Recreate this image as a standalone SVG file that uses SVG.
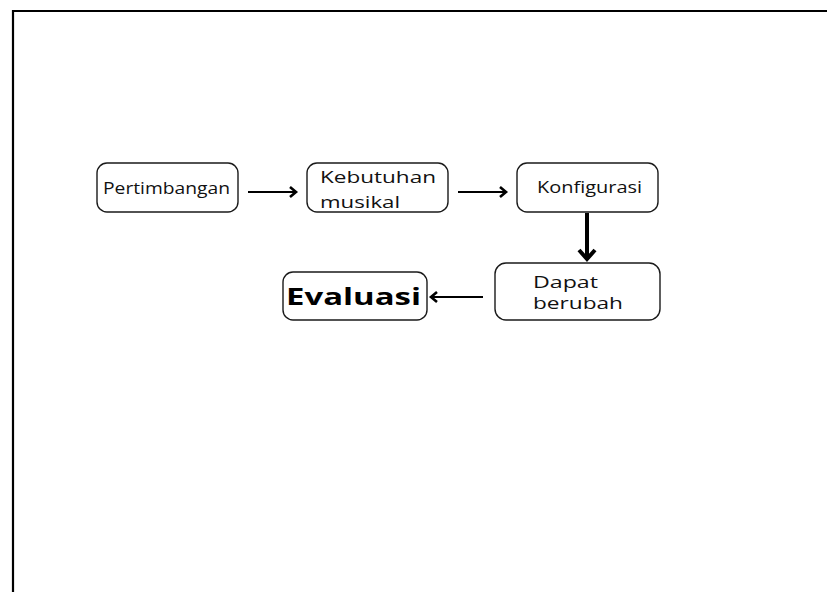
<svg xmlns="http://www.w3.org/2000/svg" width="827" height="592" viewBox="0 0 827 592">
  <style>
    .box { fill: #ffffff; stroke: #1a1a1a; stroke-width: 1.4; }
    .lbl { font-family: "Open Sans", "Noto Sans", "DejaVu Sans", sans-serif; font-size: 16px; fill: #111111; }
    .big { font-family: "Open Sans", "Noto Sans", "DejaVu Sans", sans-serif; font-size: 23px; font-weight: bold; fill: #000000; }
    .line { fill: none; stroke: #000000; stroke-width: 2.2; }
    .thick { fill: none; stroke: #000000; stroke-width: 4; }
    .head { fill: none; stroke: #000000; stroke-width: 2.6; stroke-linejoin: miter; stroke-linecap: butt; }
    .headthick { fill: none; stroke: #000000; stroke-width: 4; stroke-linejoin: miter; stroke-linecap: butt; }
  </style>

  <rect width="827" height="592" fill="#ffffff"/>
  <!-- page frame: left and top edges -->
  <path d="M13,592 V11 H827" fill="none" stroke="#000000" stroke-width="2.2"/>

  <g id="node-pertimbangan">
    <rect class="box" x="97" y="163" width="141" height="49" rx="10"/>
    <text class="lbl" x="103" y="194" textLength="127" lengthAdjust="spacingAndGlyphs">Pertimbangan</text>
  </g>

  <g id="node-kebutuhan">
    <rect class="box" x="307" y="163" width="141" height="49" rx="10"/>
    <text class="lbl" x="320" y="183" font-size="17" textLength="116" lengthAdjust="spacingAndGlyphs">Kebutuhan</text>
    <text class="lbl" x="320" y="208" font-size="17" textLength="80" lengthAdjust="spacingAndGlyphs">musikal</text>
  </g>

  <g id="node-konfigurasi">
    <rect class="box" x="517" y="163" width="141" height="49" rx="10"/>
    <text class="lbl" x="537" y="193" textLength="105" lengthAdjust="spacingAndGlyphs">Konfigurasi</text>
  </g>

  <g id="node-dapat-berubah">
    <rect class="box" x="495" y="263" width="165" height="57" rx="11"/>
    <text class="lbl" x="533" y="288" font-size="18" textLength="65" lengthAdjust="spacingAndGlyphs">Dapat</text>
    <text class="lbl" x="533" y="309" font-size="18" textLength="90" lengthAdjust="spacingAndGlyphs">berubah</text>
  </g>

  <g id="node-evaluasi">
    <rect class="box" x="283" y="272" width="144" height="48" rx="10"/>
    <text class="big" x="286" y="305" textLength="135" lengthAdjust="spacingAndGlyphs">Evaluasi</text>
  </g>

  <g id="connectors">
    <!-- Pertimbangan to Kebutuhan musikal -->
    <line class="line" x1="248" y1="192" x2="295" y2="192"/>
    <path class="head" d="M290,187 L296,192 L290,197"/>
    <!-- Kebutuhan musikal to Konfigurasi -->
    <line class="line" x1="458" y1="192" x2="505" y2="192"/>
    <path class="head" d="M500,187 L506,192 L500,197"/>
    <!-- Konfigurasi down to Dapat berubah -->
    <line class="thick" x1="587" y1="213" x2="587" y2="258"/>
    <path class="headthick" d="M579,250 L587,259 L595,250"/>
    <!-- Dapat berubah back to Evaluasi -->
    <line class="line" x1="483" y1="297" x2="432" y2="297"/>
    <path class="head" d="M437,292 L431,297 L437,302"/>
  </g>
</svg>
